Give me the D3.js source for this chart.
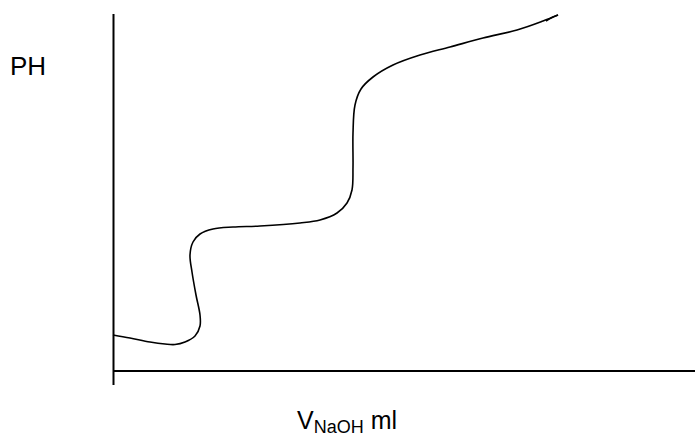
<!DOCTYPE html>
<html><head><meta charset="utf-8">
<script src="https://cdn.jsdelivr.net/npm/d3@7"></script>
<style>body{margin:0;background:#fff}</style>
</head><body>
<svg id="c" width="695" height="437"></svg>
<script>
// Titration curve: volume (arbitrary units) vs pH (arbitrary units)
const vol = [-1,16,36,51,61,71,81,86,86,82,78,76,79,86,99,119,146,186,206,223,233,238,239,239,241,247,259,279,306,336,369,403,429,444];
const ph  = [36,33,29,27,26.5,29,35,45,56,76,99,116,129,137,142,144,145,148,151,158,168,181,204,238,266,282,294,306,316,324,333,341,350,356];
const yLabel = "PH";
const xLabelMain = "V";
const xLabelSub = "NaOH";
const xLabelUnit = " ml";

const svg = d3.select("#c");
const x = d3.scaleLinear().domain([0, 581]).range([114, 695]);
const y = d3.scaleLinear().domain([0, 357]).range([371, 14]);

svg.append("line").attr("x1", x(-0.5)).attr("x2", x(-0.5)).attr("y1", y(357)).attr("y2", y(-14))
  .attr("stroke", "#000").attr("stroke-width", 2);
svg.append("line").attr("x1", x(-1)).attr("x2", x(581)).attr("y1", y(0)).attr("y2", y(0))
  .attr("stroke", "#000").attr("stroke-width", 2);

const pts = vol.map((v, i) => [v, ph[i]]);
const line = d3.line().x(d => x(d[0])).y(d => y(d[1])).curve(d3.curveCatmullRom.alpha(0.5));
svg.append("path").attr("d", line(pts)).attr("fill", "none").attr("stroke", "#000").attr("stroke-width", 1.6);
const n = pts.length;
svg.append("path").attr("d", line([[pts[n-1][0]-12, pts[n-1][1]-6],[pts[n-1][0]-6, pts[n-1][1]-2.5],[pts[n-1][0], pts[n-1][1]]]))
  .attr("fill", "none").attr("stroke", "#000").attr("stroke-width", 1.6);

svg.append("text").attr("x", 10).attr("y", 75).attr("font-family", "Liberation Sans, Arial, sans-serif")
  .attr("font-size", 26).text(yLabel);

const t = svg.append("text").attr("x", 297).attr("y", 429).attr("font-family", "Liberation Sans, Arial, sans-serif").attr("font-size", 25);
t.append("tspan").text(xLabelMain);
t.append("tspan").attr("font-size", 18).attr("dy", 4).text(xLabelSub);
t.append("tspan").attr("dy", -4).text(xLabelUnit);
</script>
</body></html>
